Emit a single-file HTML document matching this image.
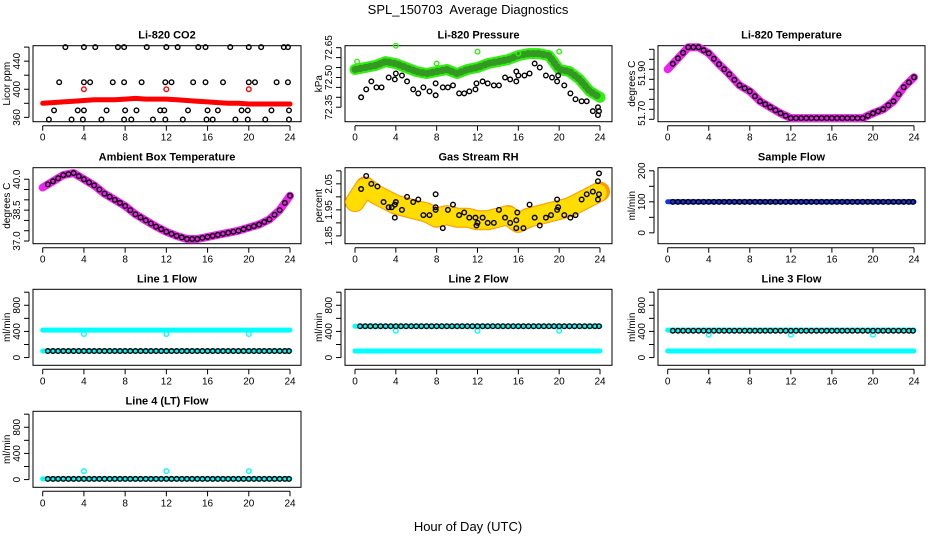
<!DOCTYPE html>
<html><head><meta charset="utf-8">
<style>
html,body{margin:0;padding:0;background:#fff;}
svg{display:block;font-family:"Liberation Sans",sans-serif;}
</style></head>
<body>
<svg id="chart" width="936" height="540" viewBox="0 0 936 540" xmlns="http://www.w3.org/2000/svg">
<rect x="0" y="0" width="936" height="540" fill="#fff"/>
<text x="468" y="14" text-anchor="middle" font-size="13" style="white-space:pre">SPL_150703  Average Diagnostics</text>
<text x="468" y="531" text-anchor="middle" font-size="13">Hour of Day (UTC)</text>
</svg>
<script>
// ---------- data ----------
const xTicks = [0,4,8,12,16,20,24];
const hours = [0,1,2,3,4,5,6,7,8,9,10,11,12,13,14,15,16,17,18,19,20,21,22,23,24];
const halfHours = [0.5,1,1.5,2,2.5,3,3.5,4,4.5,5,5.5,6,6.5,7,7.5,8,8.5,9,9.5,10,10.5,11,11.5,12,12.5,13,13.5,14,14.5,15,15.5,16,16.5,17,17.5,18,18.5,19,19.5,20,20.5,21,21.5,22,22.5,23,23.5,23.9];
const outlierHours = [4,12,20];

// CO2
const co2Red = [380,381,382,383,384,385,385,385,386,387,386,386,386,385,384,383,382,381,380,380,379,379,379,379,379];
const co2RedOutliers = [400,400,400];
const co2BlackX = [2.2,4,5.1,7.3,7.9,10.1,12,13.1,15.1,15.8,18.2,20,21.2,23.4,23.8, 1.6,4,4.6,6.8,7.9,9.6,11.9,12.5,14.6,15.8,17.5,20,20.6,22.7,23.8, 1.1,3.4,4,6.2,8,9.1,11.4,11.8,14.1,16,17,19.3,19.9,22.2,23.9, 0.6,2.8,3.9,5.7,7.9,8.6,10.7,11.9,13.6,15.9,16.5,18.7,19.9,21.6,23.9];
const co2BlackY = [460,460,460,460,460,460,460,460,460,460,460,460,460,460,460, 410,410,410,410,410,410,410,410,410,410,410,410,410,410,410, 370,370,370,370,370,370,370,370,370,370,370,370,370,370,370, 357,357,357,357,357,357,357,357,357,357,357,357,357,357,357];

// Pressure
const presGreen = [72.54,72.55,72.56,72.58,72.57,72.55,72.53,72.52,72.53,72.54,72.52,72.54,72.55,72.57,72.58,72.59,72.61,72.62,72.62,72.61,72.54,72.53,72.49,72.43,72.40];
const presGreenOutX = [0.2,4,8,12,16,20];
const presGreenOutY = [72.58,72.66,72.57,72.63,72.62,72.63];
const presBlackX = [0.6,1.1,1.6,2.1,2.6,3.3,3.9,4,4.6,5.1,5.7,6.2,6.7,7.3,7.9,7.9,8.6,9.1,9.6,10.2,10.7,11.2,11.8,11.9,12.5,13,13.6,14.1,14.7,15.2,15.8,15.8,16,16.6,17.1,17.6,18.1,18.7,19.3,19.8,19.9,20.5,21.1,21.6,22.2,22.7,23.3,23.8,23.8,23.9];
const presBlackY = [72.40,72.44,72.48,72.45,72.45,72.50,72.49,72.52,72.51,72.48,72.44,72.42,72.45,72.43,72.41,72.47,72.45,72.45,72.46,72.42,72.42,72.43,72.44,72.47,72.48,72.47,72.46,72.46,72.50,72.49,72.48,72.53,72.51,72.51,72.52,72.57,72.55,72.51,72.50,72.48,72.51,72.46,72.42,72.39,72.38,72.38,72.33,72.35,72.31,72.33];

// Li-820 temperature
const liTemp = [51.90,51.955,52.01,52.01,51.98,51.925,51.875,51.82,51.79,51.74,51.71,51.68,51.656,51.656,51.656,51.656,51.656,51.656,51.656,51.656,51.68,51.70,51.74,51.81,51.86];

// Ambient box temperature
const ambTemp = [39.6,39.9,40.2,40.3,40.0,39.7,39.3,39.0,38.7,38.3,38.0,37.7,37.45,37.25,37.1,37.1,37.2,37.3,37.4,37.5,37.65,37.8,38.05,38.5,39.2];

// Gas stream RH
const rhOrange = [1.98,2.04,2.01,1.99,1.97,1.96,1.95,1.94,1.92,1.93,1.92,1.92,1.91,1.91,1.92,1.93,1.90,1.92,1.93,1.94,1.95,1.96,1.98,2.00,2.02];
const rhBlackX = [0.6,1.1,1.6,2.2,2.8,3.3,3.6,3.9,3.9,4,4.6,5.1,5.7,6.2,6.7,7.3,7.9,7.9,7.9,8.6,9.1,9.6,10.2,10.7,11.2,11.8,11.9,12,12.5,13,13.6,14.1,14.7,15.2,15.8,15.8,15.9,16.5,17.1,17.6,18.1,18.7,19.2,19.8,19.8,19.9,20.5,21.1,21.6,22.2,22.7,23.3,23.8,23.8,23.9,23.9];
const rhBlackY = [2.03,2.08,2.05,2.04,1.98,1.96,1.96,1.97,1.92,1.98,1.95,2.00,1.98,1.99,1.93,1.93,1.95,1.96,2.01,1.88,1.95,1.97,1.93,1.94,1.92,1.92,1.89,1.90,1.92,1.90,1.90,1.95,1.92,1.90,1.88,1.91,1.94,1.88,1.97,1.92,1.89,1.92,1.93,1.95,1.99,1.96,1.93,1.92,1.93,1.99,2.01,2.02,1.99,2.06,2.09,2.01];

// Flows (level per series)
const sampleBlue = 100, sampleBlack = 100;
const line1Cyan = [420,100], line1CyanOut = 360, line1Black = 100;
const line2Cyan = [480,100], line2CyanOut = 410, line2Black = 480;
const line3Cyan = [420,100], line3CyanOut = 350, line3Black = 410;
const line4Cyan = [10], line4CyanOut = 130, line4Black = 10;

// ---------- drawing ----------
const svg = document.getElementById('chart');
const NS = 'http://www.w3.org/2000/svg';
function mk(tag, attrs, parent){
  const e = document.createElementNS(NS, tag);
  for (const k in attrs) e.setAttribute(k, attrs[k]);
  (parent||svg).appendChild(e);
  return e;
}
const colBox = [[33,301],[345,612],[658,925]];
const colX0 = [42.7,355,667.7];
const colX24 = [290,600,914];
const rowTop = [45.7,167.7,289.3,411.3];
const BOXH = 76;

function panel(name, col, row, title, ylab, yMin, yMax, yTicks, yLabels){
  const g = mk('g', {});
  
  
  const [bx0,bx1] = colBox[col];
  const top = rowTop[row], bot = top + BOXH;
  const sx = h => colX0[col] + (colX24[col]-colX0[col]) * h / 24;
  const sy = v => bot - (v - yMin) / (yMax - yMin) * BOXH;
  const t = mk('text', {x:(bx0+bx1)/2, y: top-7, 'text-anchor':'middle', 'font-size':11, 'font-weight':'bold'}, g);
  t.textContent = title;
  
  
  const box = mk('rect', {x:bx0, y:top, width:bx1-bx0, height:BOXH, fill:'none', stroke:'#000', 'stroke-width':1}, g);
  
  
  const xa = mk('g', {}, g);
  
  
  mk('line', {x1:sx(0), x2:sx(24), y1:bot+4, y2:bot+4, stroke:'#000'}, xa);
  xTicks.forEach(h => {
    mk('line', {x1:sx(h), x2:sx(h), y1:bot+4, y2:bot+9, stroke:'#000'}, xa);
    const l = mk('text', {x:sx(h), y:bot+19, 'text-anchor':'middle', 'font-size':10}, xa);
    l.textContent = h;
  });
  const ya = mk('g', {}, g);
  
  
  const yt0 = Math.min(...yTicks), yt1 = Math.max(...yTicks);
  mk('line', {x1:bx0-4, x2:bx0-4, y1:sy(yt0), y2:sy(yt1), stroke:'#000'}, ya);
  yTicks.forEach(v => mk('line', {x1:bx0-9, x2:bx0-4, y1:sy(v), y2:sy(v), stroke:'#000'}, ya));
  yLabels.forEach(v => {
    const l = mk('text', {x:0, y:0, 'text-anchor':'middle', 'font-size':10, transform:`translate(${bx0-13},${sy(v[0])}) rotate(-90)`}, ya);
    l.textContent = v[1];
  });
  const yl = mk('text', {x:0, y:0, 'text-anchor':'middle', 'font-size':10, transform:`translate(${bx0-23},${top+BOXH/2}) rotate(-90)`}, g);
  yl.textContent = ylab;
  
  
  return {g, sx, sy};
}
function circ(p, parent, x, y, color, r, sw){
  mk('circle', {cx:p.sx(x), cy:p.sy(y), r:r||2.3, fill:'none', stroke:color, 'stroke-width':sw||1.4}, parent);
}
function band(p, parent, xs, ys, color, w, dash){
  const d = xs.map((x,i)=>(i?'L':'M')+p.sx(x).toFixed(1)+','+p.sy(ys[i]).toFixed(1)).join(' ');
  const a = {d, fill:'none', stroke:color, 'stroke-width':w, 'stroke-linejoin':'round', 'stroke-linecap':'round'};
  if (dash) a['stroke-dasharray'] = dash;
  return mk('path', a, parent);
}
function series(p, name){
  const s = mk('g', {}, p.g);
  
  
  return s;
}

// CO2
let p = panel('panel-co2',0,0,'Li-820 CO2','Licor ppm',353.8,462,[360,380,400,420,440,460],[[360,'360'],[400,'400'],[440,'440']]);
let s = series(p,'co2-red-series');
band(p, s, hours, co2Red, '#f00', 5);
outlierHours.forEach((h,i)=>circ(p,s,h,co2RedOutliers[i],'#f00'));
s = series(p,'co2-black-points');
co2BlackX.forEach((x,i)=>circ(p,s,x,co2BlackY[i],'#000'));

// Pressure
p = panel('panel-pressure',1,0,'Li-820 Pressure','kPa',72.277,72.66,[72.35,72.40,72.45,72.50,72.55,72.60,72.65],[[72.35,'72.35'],[72.50,'72.50'],[72.65,'72.65']]);
s = series(p,'pressure-green-series');
band(p, s, hours, presGreen, '#33ee11', 11);
band(p, s, hours, presGreen, '#339922', 7, '1 4');
presGreenOutX.forEach((x,i)=>circ(p,s,x,presGreenOutY[i],'#33ee11'));
s = series(p,'pressure-black-points');
presBlackX.forEach((x,i)=>circ(p,s,x,presBlackY[i],'#000'));

// Li-820 temperature
p = panel('panel-li820-temp',2,0,'Li-820 Temperature','degrees C',51.638,52.018,[51.65,51.70,51.75,51.80,51.85,51.90,51.95,52.00],[[51.68,'51.70'],[51.88,'51.90']]);
s = series(p,'li820-temp-magenta');
band(p, s, hours, liTemp, '#ee22ee', 8);
s = series(p,'li820-temp-black');
hours.slice(0,24).forEach((h,i)=>{ circ(p,s,h+0.5,(liTemp[i]+liTemp[i+1])/2,'#000'); circ(p,s,h+1,liTemp[i+1],'#000'); });

// Ambient
p = panel('panel-ambient-temp',0,1,'Ambient Box Temperature','degrees C',36.87,40.56,[37,37.5,38,38.5,39,39.5,40],[[37,'37.0'],[38.5,'38.5'],[40,'40.0']]);
s = series(p,'ambient-magenta');
band(p, s, hours, ambTemp, '#ee22ee', 8);
s = series(p,'ambient-black');
hours.slice(0,24).forEach((h,i)=>{ circ(p,s,h+0.5,(ambTemp[i]+ambTemp[i+1])/2,'#000'); circ(p,s,h+1,ambTemp[i+1],'#000'); });

// RH
p = panel('panel-rh',1,1,'Gas Stream RH','percent',1.82,2.112,[1.85,1.90,1.95,2.00,2.05,2.10],[[1.85,'1.85'],[1.95,'1.95'],[2.05,'2.05']]);
s = series(p,'rh-orange');
band(p, s, hours, rhOrange, '#ff9900', 20);
band(p, s, hours, rhOrange, '#ffdd00', 18, '1 3');
s = series(p,'rh-black');
rhBlackX.forEach((x,i)=>circ(p,s,x,rhBlackY[i],'#000'));

// Flows
function flow(name,col,row,title,yMin,yMax,yT,yL,cyanLevels,out,blackLevel,cyanColor){
  const q = panel(name,col,row,title,'ml/min',yMin,yMax,yT,yL);
  const c = series(q, name+'-colored');
  cyanLevels.forEach(lv => band(q, c, [0,24], [lv,lv], cyanColor, 5));
  if (out!==null) outlierHours.forEach(h=>circ(q,c,h,out,cyanColor));
  const b = series(q, name+'-black');
  halfHours.forEach(h=>circ(q,b,h,blackLevel,'#000'));
}
const fT = [0,200,400,600,800,1000], fL = [[0,'0'],[400,'400'],[800,'800']];
flow('panel-sample-flow',2,1,'Sample Flow',-35,210,[0,50,100,150,200],[[0,'0'],[100,'100'],[200,'200']],[sampleBlue],null,sampleBlack,'#1133ee');
flow('panel-line1-flow',0,2,'Line 1 Flow',-118,1044,fT,fL,line1Cyan,line1CyanOut,line1Black,'#00ffff');
flow('panel-line2-flow',1,2,'Line 2 Flow',-118,1044,fT,fL,line2Cyan,line2CyanOut,line2Black,'#00ffff');
flow('panel-line3-flow',2,2,'Line 3 Flow',-118,1044,fT,fL,line3Cyan,line3CyanOut,line3Black,'#00ffff');
flow('panel-line4-flow',0,3,'Line 4 (LT) Flow',-118,1044,fT,fL,line4Cyan,line4CyanOut,line4Black,'#00ffff');
</script>
</body></html>
